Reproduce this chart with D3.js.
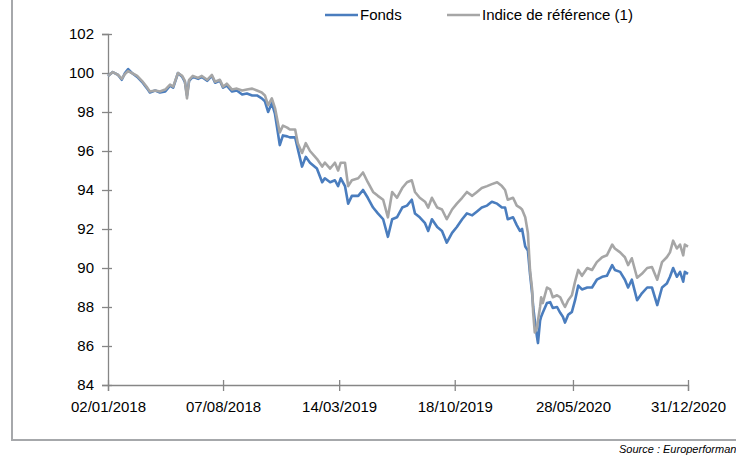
<!DOCTYPE html>
<html>
<head>
<meta charset="utf-8">
<script src="https://cdn.jsdelivr.net/npm/d3@7"></script>
<style>
  body { margin: 0; background: #fff; }
  svg { display: block; font-family: "Liberation Sans", Arial, sans-serif; }
</style>
</head>
<body>
<div class="chart"></div>
<script>
// days since 02/01/2018
const days = [0, 9, 19, 26, 32, 38, 45, 55, 64, 74, 79, 89, 98, 108, 117, 123, 132, 140, 145, 149,
  153, 160, 170, 177, 187, 196, 202, 211, 217, 224, 234, 243, 253, 262, 272, 281, 290, 296, 302, 309,
  315, 324, 330, 338, 343, 353, 358, 366, 373, 381, 394, 404, 409, 419, 428, 434, 439, 447, 453, 460,
  472, 481, 490, 500, 509, 519, 528, 536, 545, 555, 564, 573, 579, 588, 598, 604, 611, 621, 630, 639,
  649, 658, 668, 677, 687, 696, 705, 715, 724, 734, 743, 749, 754, 764, 771, 777, 781, 787, 792, 796,
  800, 802, 805, 809, 811, 815, 817, 820, 828, 834, 839, 847, 853, 858, 862, 868, 875, 881, 887, 894,
  904, 913, 922, 932, 941, 951, 956, 966, 975, 981, 988, 998, 1007, 1017, 1026, 1036, 1045, 1054, 1060, 1066,
  1073, 1079, 1085, 1088, 1094];

const fonds = [99.85, 100.05, 99.9, 99.65, 100.0, 100.2, 100.0, 99.8, 99.55, 99.2, 99.0, 99.1, 99.0, 99.05, 99.35, 99.25, 100.0, 99.8, 99.55, 98.85,
  99.6, 99.8, 99.7, 99.8, 99.6, 99.85, 99.5, 99.6, 99.25, 99.35, 99.05, 99.1, 98.9, 98.95, 98.85, 98.85, 98.7, 98.55, 98.0, 98.45,
  97.9, 96.3, 96.8, 96.75, 96.7, 96.7, 96.1, 95.2, 95.7, 95.4, 95.1, 94.4, 94.6, 94.4, 94.5, 94.2, 94.6, 94.2, 93.3, 93.7,
  93.7, 94.0, 93.6, 93.1, 92.8, 92.5, 91.6, 92.5, 92.6, 93.1, 93.2, 93.5, 92.8, 92.6, 92.3, 91.9, 92.5, 92.1, 91.9, 91.3,
  91.8, 92.1, 92.5, 92.8, 92.7, 92.9, 93.1, 93.2, 93.4, 93.3, 93.1, 93.1, 92.5, 92.6, 92.2, 91.9, 92.0, 91.1, 90.9, 89.7,
  88.7, 88.0, 87.3, 86.5, 86.15, 87.3, 87.5, 87.7, 88.2, 88.25, 87.95, 88.0, 87.7, 87.5, 87.2, 87.6, 87.75, 88.35, 89.1, 88.9,
  89.0, 89.0, 89.4, 89.55, 89.6, 90.15, 89.9, 89.8, 89.4, 89.0, 89.4, 88.35, 88.7, 89.0, 89.0, 88.1, 89.0, 89.2, 89.55, 90.0,
  89.55, 89.8, 89.3, 89.8, 89.7];

const indice = [99.85, 100.05, 99.9, 99.7, 99.95, 100.1, 100.0, 99.85, 99.6, 99.25, 99.05, 99.1, 99.05, 99.15, 99.4, 99.3, 100.0, 99.85, 99.6, 98.7,
  99.65, 99.85, 99.75, 99.85, 99.65, 99.9, 99.55, 99.65, 99.3, 99.45, 99.15, 99.2, 99.1, 99.15, 99.2, 99.1, 99.0, 98.85, 98.35, 98.7,
  98.2, 96.95, 97.3, 97.2, 97.1, 97.1, 96.4, 95.9, 96.4, 96.0, 95.6, 95.2, 95.4, 95.1, 95.4, 95.0, 95.4, 95.4, 94.2, 94.5,
  94.6, 94.9, 94.4, 93.9, 93.7, 93.5, 92.6, 93.9, 93.6, 94.1, 94.4, 94.5, 93.9, 93.6, 93.4, 93.1, 93.6, 93.1, 93.0, 92.5,
  93.0, 93.3, 93.6, 93.9, 93.7, 93.9, 94.1, 94.2, 94.3, 94.4, 94.2, 94.0, 93.5, 93.6, 93.2, 93.1, 93.0, 92.6, 91.8, 89.9,
  88.9, 87.7, 86.7, 86.9, 87.3, 88.0, 88.5, 88.2, 89.0, 88.9, 88.5, 88.6, 88.5, 88.2, 88.0, 88.35, 88.6, 89.3, 89.9, 89.6,
  90.0, 89.9, 90.3, 90.55, 90.65, 91.2, 91.0, 90.8, 90.55, 90.15, 90.5, 89.5, 89.7, 90.0, 90.05, 89.4, 90.3, 90.55, 90.8, 91.4,
  91.0, 91.2, 90.65, 91.2, 91.1];

const xTickLabels = ['02/01/2018', '07/08/2018', '14/03/2019', '18/10/2019', '28/05/2020', '31/12/2020'];
const yTicks = [84, 86, 88, 90, 92, 94, 96, 98, 100, 102];
const seriesNames = ['Fonds', 'Indice de référence (1)'];

const w = 736;
const h = 455;
const margin = {left: 108, right: 48, top: 34, bottom: 70};

const parse = d3.timeParse('%d/%m/%Y');
const start = parse(xTickLabels[0]);
const dates = days.map(d => d3.timeDay.offset(start, d));

const svg = d3.select('.chart')
  .append('svg')
  .attr('width', w)
  .attr('height', h);

// frame
svg.append('path')
  .attr('d', 'M12,0V440H736')
  .attr('fill', 'none')
  .attr('stroke', '#a6a8ab')
  .attr('stroke-width', 2);

const x = d3.scaleTime()
  .domain([start, parse(xTickLabels[xTickLabels.length - 1])])
  .range([margin.left, w - margin.right]);

const y = d3.scaleLinear()
  .domain([84, 102])
  .range([h - margin.bottom, margin.top]);

const axisColor = '#868686';

const yAxis = svg.append('g')
  .attr('transform', 'translate(' + margin.left + ',0)')
  .call(d3.axisLeft(y).tickValues(yTicks).tickSize(6).tickPadding(8));
yAxis.selectAll('.tick line').attr('x2', 4).attr('x1', -6);

const xAxis = svg.append('g')
  .attr('transform', 'translate(0,' + (h - margin.bottom) + ')')
  .call(d3.axisBottom(x).tickValues(xTickLabels.map(parse)).tickFormat(d3.timeFormat('%d/%m/%Y')).tickSize(6).tickPadding(10));
xAxis.selectAll('.tick line').attr('y1', -5);

svg.selectAll('.domain, .tick line').attr('stroke', axisColor).attr('stroke-width', 1.3);
svg.selectAll('.tick text').attr('fill', '#000').style('font-size', '15px');

const line = d3.line()
  .x((d, i) => x(dates[i]))
  .y(d => y(d));

const colors = ['#4a7dbe', '#a6a6a6'];

[fonds, indice].forEach((s, k) => {
  svg.append('path')
    .datum(s)
    .attr('fill', 'none')
    .attr('stroke', colors[k])
    .attr('stroke-width', 2.6)
    .attr('stroke-linejoin', 'round')
    .attr('d', line);
});

// legend
const legend = svg.append('g').attr('transform', 'translate(325,15)');
const legX = [0, 122];
seriesNames.forEach((n, k) => {
  const g = legend.append('g').attr('transform', 'translate(' + legX[k] + ',0)');
  g.append('line').attr('x1', 0).attr('x2', 33).attr('stroke', colors[k]).attr('stroke-width', 2.6);
  g.append('text').attr('x', 35).attr('y', 5).style('font-size', '15px').text(n);
});

svg.append('text')
  .attr('x', 619)
  .attr('y', 453)
  .style('font-size', '11px')
  .style('font-style', 'italic')
  .text('Source : Europerformance');
</script>
</body>
</html>
